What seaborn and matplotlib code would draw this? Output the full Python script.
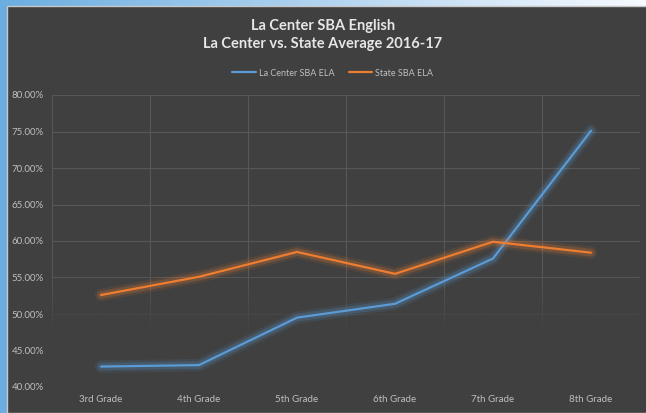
import numpy as np
import pandas as pd
import matplotlib
matplotlib.use("Agg")
import matplotlib.pyplot as plt
import matplotlib.patheffects as pe
from matplotlib.patches import Rectangle
import seaborn as sns

# values
grades = ["3rd Grade", "4th Grade", "5th Grade", "6th Grade", "7th Grade", "8th Grade"]
la_center = [0.428, 0.430, 0.495, 0.514, 0.576, 0.751]
state = [0.526, 0.551, 0.585, 0.555, 0.599, 0.584]
series_names = ["La Center SBA ELA", "State SBA ELA"]
colors = ["#5b9bd5", "#ed7d31"]

df = pd.DataFrame({
    "Grade": grades * 2,
    "Score": la_center + state,
    "Series": [series_names[0]] * len(grades) + [series_names[1]] * len(grades),
})

sns.set_style("white")
plt.rcParams["font.family"] = ["Lato", "DejaVu Sans"]

W, H = 646, 413
fig = plt.figure(figsize=(W / 100, H / 100), dpi=100)

# blue-to-white frame behind the dark chart area
bg = fig.add_axes([0, 0, 1, 1], zorder=-10)
grad = np.linspace(0, 1, 256)
blue = np.array([0.42, 0.68, 0.88])
white = np.array([0.97, 0.98, 1.0])
img = blue[None, :] * (1 - grad[:, None]) + white[None, :] * grad[:, None]
bg.imshow(img[None, :, :], aspect="auto", extent=[0, 1, 0, 1])
bg.add_patch(Rectangle((7 / W, 0), 1, 1 - 6 / H, facecolor="#404040",
                       edgecolor="#c8c8c8", linewidth=1.0))
bg.set_xlim(0, 1)
bg.set_ylim(0, 1)
bg.axis("off")

ax = fig.add_axes([52 / W, (H - 387) / H, (640 - 52) / W, (387 - 95) / H])
ax.set_facecolor("none")

sns.lineplot(data=df, x="Grade", y="Score", hue="Series", palette=colors,
             linewidth=1.6, ax=ax, legend=False, sort=False, zorder=5)

for line, c in zip(ax.get_lines(), colors):
    line.set_path_effects([
        pe.Stroke(linewidth=9, foreground=c, alpha=0.10),
        pe.Stroke(linewidth=5.5, foreground=c, alpha=0.22),
        pe.Normal(),
    ])

ax.set_xlim(-0.5, len(grades) - 0.5)
ax.set_ylim(0.40, 0.80)
ax.set_yticks(np.arange(0.40, 0.801, 0.05))
ax.set_yticklabels([f"{v * 100:.2f}%" for v in np.arange(0.40, 0.801, 0.05)])
ax.set_xticks(range(len(grades)))
ax.set_xticklabels(grades)
ax.set_xticks(np.arange(-0.5, len(grades), 1.0), minor=True)
ax.tick_params(axis="both", which="both", length=0, colors="#bfbfbf", labelsize=7)
ax.tick_params(axis="y", pad=6)
ax.tick_params(axis="x", pad=6)
ax.grid(True, axis="y", which="major", color="#575757", linewidth=0.8, zorder=1)
ax.grid(True, axis="x", which="minor", color="#575757", linewidth=0.8, zorder=1)
ax.set_axisbelow(True)
for s in ax.spines.values():
    s.set_visible(False)
ax.set_xlabel("")
ax.set_ylabel("")

# grid fades out toward the bottom of the plot area
fade = np.zeros((256, 1, 4))
fade[:, :, :3] = np.array([64, 64, 64]) / 255
yy = np.linspace(0.40, 0.80, 256)
fade[:, 0, 3] = np.clip((0.555 - yy) / 0.085, 0, 1)
ax.imshow(fade, aspect="auto", origin="lower",
          extent=[-0.5, len(grades) - 0.5, 0.40, 0.80], zorder=2)

fig.text(0.5, 1 - 26 / H, "La Center SBA English", ha="center", va="center",
         fontsize=10.5, fontweight="bold", color="#e6e6e6")
fig.text(0.5, 1 - 44 / H, "La Center vs. State Average 2016-17", ha="center",
         va="center", fontsize=10.5, fontweight="bold", color="#e6e6e6")

handles = [plt.Line2D([], [], color=c, linewidth=1.6) for c in colors]
leg = fig.legend(handles, series_names, loc="center", bbox_to_anchor=(0.515, 1 - 73 / H),
                 ncol=2, frameon=False, fontsize=6.5, handlelength=2.6,
                 columnspacing=1.6, handletextpad=0.3)
for t in leg.get_texts():
    t.set_color("#bfbfbf")

fig.savefig("out.png", dpi=100)
